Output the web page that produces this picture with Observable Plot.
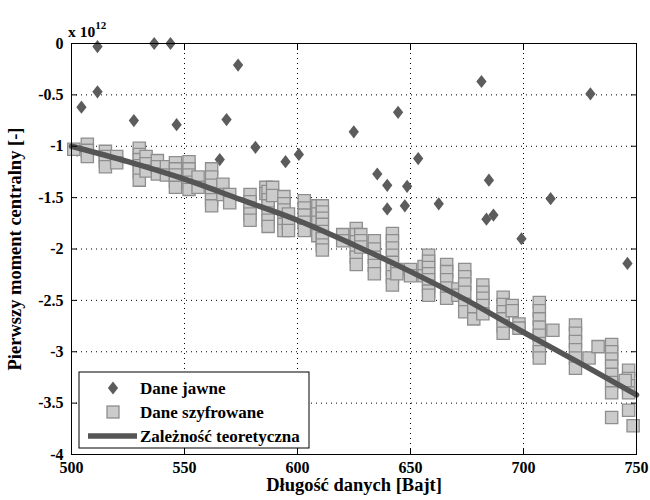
<!DOCTYPE html>
<html>
<head>
<meta charset="utf-8">
<script src="https://cdn.jsdelivr.net/npm/d3@7"></script>
<script src="https://cdn.jsdelivr.net/npm/@observablehq/plot@0.6"></script>
<style>
  html, body { margin: 0; padding: 0; background: #fff; }
  #chart { width: 650px; height: 500px; }
</style>
</head>
<body>
<div id="chart"></div>
<script>
// ---- data ----
const xTicks = [500, 550, 600, 650, 700, 750];
const yTicks = [0, -0.5, -1, -1.5, -2, -2.5, -3, -3.5, -4];
const xLabel = "Długość danych [Bajt]";
const yLabel = "Pierwszy moment centralny [-]";
const expLabel = "x 10";
const expPower = "12";
const seriesNames = ["Dane jawne", "Dane szyfrowane", "Zależność teoretyczna"];

// Dane jawne (diamonds)
const jawneX = [504.4, 511.5, 511.5, 502.5, 536.6, 543.8, 573.7, 527.6, 546.5, 568.6, 581.4, 565.6, 594.7, 600.6, 624.9, 644.5, 653.4, 635.3, 639.7, 648.5, 639.7, 647.5, 662.5, 681.4, 729.6, 684.7, 712.0, 683.6, 686.7, 699.1, 746.0];
const jawneY = [-0.62, -0.03, -0.47, -1.04, 0.0, 0.0, -0.21, -0.75, -0.79, -0.74, -1.01, -1.13, -1.15, -1.08, -0.86, -0.67, -1.12, -1.27, -1.38, -1.39, -1.61, -1.58, -1.56, -0.37, -0.49, -1.33, -1.51, -1.71, -1.67, -1.90, -2.14];

// Dane szyfrowane (squares)
const szyfrX = [
  501,
  507, 507, 507,
  515, 515, 515, 515,
  520, 520,
  530, 530, 530, 530, 530, 530,
  533, 533, 533,
  538, 538, 538,
  542, 542,
  546, 546, 546, 546, 546,
  552, 552, 552, 552, 552,
  556, 556,
  562, 562, 562, 562, 562, 562,
  567, 567,
  570, 570,
  579, 579, 579, 579, 579,
  586, 586,
  587, 587, 587, 587, 587, 587,
  589, 589,
  594, 594, 594, 594, 594, 594,
  596, 596, 596,
  603, 603, 603, 603, 603,
  609, 609, 609, 609, 609,
  611, 611, 611, 611, 611, 611, 611, 611,
  620, 620,
  626, 626, 626, 626, 626, 626,
  628, 628, 628,
  634, 634, 634, 634, 634,
  642, 642, 642, 642, 642, 642, 642, 642,
  644, 644,
  650, 650,
  656, 656,
  658, 658, 658, 658, 658, 658, 658, 658,
  666, 666, 666, 666, 666,
  671, 671,
  674, 674, 674, 674, 674, 674,
  678, 678,
  682, 682, 682, 682, 682,
  691, 691, 691, 691, 691, 691,
  695, 695,
  698, 698,
  707, 707, 707, 707, 707, 707, 707, 707,
  713,
  723, 723, 723, 723, 723, 723,
  729, 733,
  739, 739, 739, 739, 739, 739, 739, 739,
  746.5, 746.5, 746.5, 746.5, 746.5,
  745, 748.5
];
const szyfrY = [
  -1.03,
  -0.98, -1.04, -1.10,
  -1.05, -1.10, -1.15, -1.20,
  -1.10, -1.16,
  -1.02, -1.08, -1.13, -1.19, -1.25, -1.33,
  -1.10, -1.17, -1.24,
  -1.14, -1.20, -1.27,
  -1.20, -1.28,
  -1.16, -1.22, -1.28, -1.34, -1.40,
  -1.15, -1.22, -1.28, -1.35, -1.42,
  -1.30, -1.40,
  -1.22, -1.30, -1.38, -1.46, -1.52, -1.58,
  -1.37, -1.47,
  -1.47, -1.55,
  -1.47, -1.54, -1.60, -1.66, -1.72,
  -1.40, -1.46,
  -1.44, -1.52, -1.58, -1.65, -1.72, -1.78,
  -1.40, -1.48,
  -1.49, -1.56, -1.62, -1.70, -1.76, -1.82,
  -1.66, -1.75, -1.82,
  -1.53, -1.60, -1.67, -1.74, -1.82,
  -1.58, -1.66, -1.74, -1.82, -1.87,
  -1.58, -1.64, -1.70, -1.76, -1.83, -1.90, -1.96, -2.01,
  -1.86, -1.92,
  -1.80, -1.86, -1.93, -2.00, -2.08, -2.15,
  -1.86, -1.92, -1.98,
  -1.92, -2.00, -2.08, -2.16, -2.24,
  -1.85, -1.92, -1.99, -2.06, -2.13, -2.20, -2.27, -2.35,
  -2.20, -2.24,
  -2.20, -2.26,
  -2.17, -2.26,
  -2.06, -2.12, -2.18, -2.24, -2.30, -2.36, -2.41, -2.45,
  -2.15, -2.22, -2.30, -2.38, -2.48,
  -2.39, -2.45,
  -2.20, -2.27, -2.34, -2.42, -2.55, -2.61,
  -2.59, -2.68,
  -2.35, -2.42, -2.48, -2.55, -2.63,
  -2.47, -2.54, -2.61, -2.68, -2.75, -2.82,
  -2.55, -2.60,
  -2.73, -2.77,
  -2.52, -2.60, -2.68, -2.76, -2.84, -2.92, -3.00, -3.06,
  -2.79,
  -2.74, -2.82, -2.90, -2.98, -3.06, -3.16,
  -3.06, -2.95,
  -2.93, -3.00, -3.07, -3.14, -3.22, -3.30, -3.40, -3.64,
  -3.18, -3.26, -3.33, -3.40, -3.57,
  -3.28, -3.72
];

// Zależność teoretyczna (line)
const teoriaX = [500, 525, 550, 575, 600, 625, 650, 675, 700, 725, 750];
const teoriaY = [-1.00, -1.15, -1.32, -1.52, -1.72, -1.96, -2.22, -2.50, -2.81, -3.11, -3.42];

// ---- styles ----
const diamondColor = "#5c5c5c";
const squareFill = "#cbcbcb";
const squareStroke = "#8e8e8e";
const lineColor = "#555555";
const font = "Liberation Serif, Times New Roman, DejaVu Serif, serif";

const jawne = jawneX.map((x, i) => ({x, y: jawneY[i]}));
const szyfr = szyfrX.map((x, i) => ({x, y: szyfrY[i]}));
const teoria = teoriaX.map((x, i) => ({x, y: teoriaY[i]}));

const diamondSymbol = {
  draw(ctx, size) {
    const r = Math.sqrt(size / Math.PI);
    ctx.moveTo(0, -r);
    ctx.lineTo(0.78 * r, 0);
    ctx.lineTo(0, r);
    ctx.lineTo(-0.78 * r, 0);
    ctx.closePath();
  }
};

const fmt = d => String(d);

const chart = Plot.plot({
  width: 650,
  height: 500,
  marginLeft: 71,
  marginRight: 14,
  marginTop: 43,
  marginBottom: 46,
  style: {fontFamily: font, fontWeight: "bold", fontSize: "16px", color: "#000", background: "#fff"},
  x: {domain: [500, 750], ticks: xTicks},
  y: {domain: [-4, 0], ticks: yTicks},
  marks: [
    Plot.gridX(xTicks, {stroke: "#000", strokeOpacity: 1, strokeWidth: 1, strokeDasharray: "1,4"}),
    Plot.gridY(yTicks, {stroke: "#000", strokeOpacity: 1, strokeWidth: 1, strokeDasharray: "1,4"}),
    Plot.dot(jawne, {x: "x", y: "y", symbol: diamondSymbol, r: 6.6, fill: diamondColor, stroke: "none"}),
    Plot.dot(szyfr, {x: "x", y: "y", symbol: "square", r: 6.9, fill: squareFill, stroke: squareStroke, strokeWidth: 1.3}),
    Plot.line(teoria, {x: "x", y: "y", stroke: lineColor, strokeWidth: 5.5, curve: "monotone-x"}),
    Plot.frame({stroke: "#000", strokeWidth: 1}),
    // tick labels
    Plot.axisX(xTicks, {anchor: "bottom", tickSize: 0, tickPadding: 7, tickFormat: fmt, label: null, fontSize: 16}),
    Plot.axisY(yTicks, {anchor: "left", tickSize: 0, tickPadding: 8, tickFormat: fmt, label: null, fontSize: 16}),
    // inward ticks
    Plot.axisX(xTicks, {anchor: "bottom", tickSize: -6, tickFormat: () => "", label: null}),
    Plot.axisX(xTicks, {anchor: "top", tickSize: -6, tickFormat: () => "", label: null}),
    Plot.axisY(yTicks, {anchor: "left", tickSize: -6, tickFormat: () => "", label: null}),
    Plot.axisY(yTicks, {anchor: "right", tickSize: -6, tickFormat: () => "", label: null}),
    // axis titles
    Plot.text([xLabel], {frameAnchor: "bottom", textAnchor: "middle", dy: 36, text: d => d, fontSize: 18.5, fontWeight: "bold"}),
    Plot.text([yLabel], {frameAnchor: "left", textAnchor: "middle", dx: -56, rotate: -90, text: d => d, fontSize: 18.5, fontWeight: "bold"})
  ]
});
document.getElementById("chart").appendChild(chart);

// ---- exponent label and legend ----
const svg = d3.select(chart);
const expo = svg.append("text").attr("x", 68).attr("y", 37).attr("text-anchor", "start")
  .attr("font-family", font).attr("font-weight", "bold").attr("font-size", 15.5).attr("fill", "#000");
expo.append("tspan").text(expLabel);
expo.append("tspan").attr("dy", -8).attr("font-size", 11).text(expPower);

const lg = svg.append("g").attr("font-family", font).attr("font-weight", "bold").attr("font-size", 17);
lg.append("rect").attr("x", 79).attr("y", 372).attr("width", 230).attr("height", 76)
  .attr("fill", "#fff").attr("stroke", "#000").attr("stroke-width", 1);
const rows = [388, 412, 436];
lg.append("path").attr("transform", `translate(113,${rows[0]})`)
  .attr("d", "M0,-6.6L5.1,0L0,6.6L-5.1,0Z").attr("fill", diamondColor).attr("stroke", "none");
lg.append("rect").attr("x", 107).attr("y", rows[1] - 6).attr("width", 12).attr("height", 12)
  .attr("fill", squareFill).attr("stroke", squareStroke).attr("stroke-width", 1.3);
lg.append("line").attr("x1", 88).attr("x2", 137).attr("y1", rows[2]).attr("y2", rows[2])
  .attr("stroke", lineColor).attr("stroke-width", 5.5);
seriesNames.forEach((name, i) => {
  lg.append("text").attr("x", 140).attr("y", rows[i]).attr("dy", "0.35em")
    .attr("text-anchor", "start").attr("fill", "#000").text(name);
});
</script>
</body>
</html>
